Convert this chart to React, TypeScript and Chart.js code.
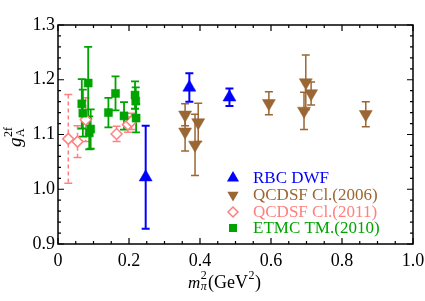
import React, { useEffect, useRef } from 'react';
import { Chart, registerables } from 'chart.js';

Chart.register(...registerables);

// ---- data ----
const rbcX = [0.247, 0.370, 0.483];
const rbcY = [1.022, 1.186, 1.168];
const rbcErr = [0.094, 0.026, 0.016];

const qcd06X = [0.358, 0.358, 0.386, 0.395, 0.594, 0.693, 0.698, 0.713, 0.867];
const qcd06Y = [1.136, 1.105, 1.081, 1.122, 1.157, 1.143, 1.195, 1.175, 1.137];
const qcd06Err = [0.020, 0.035, 0.056, 0.035, 0.021, 0.034, 0.050, 0.021, 0.023];

const qcd11X = [0.029, 0.055, 0.078, 0.165, 0.197, 0.207];
const qcd11Y = [1.092, 1.087, 1.127, 1.101, 1.118, 1.124];
const qcd11Err = [0.081, 0.029, 0.040, 0.014, 0.014, 0.015];

const etmcX = [0.067, 0.070, 0.085, 0.088, 0.092, 0.142, 0.162, 0.186, 0.217, 0.219, 0.220];
const etmcY = [1.156, 1.139, 1.194, 1.103, 1.110, 1.140, 1.175, 1.134, 1.172, 1.161, 1.130];
const etmcErr = [0.045, 0.043, 0.066, 0.030, 0.036, 0.027, 0.031, 0.025, 0.025, 0.025, 0.026];

const legendLabels = ['RBC DWF', 'QCDSF Cl.(2006)', 'QCDSF Cl.(2011)', 'ETMC TM.(2010)'];

const BLUE = '#0000ff';
const BROWN = '#9a6633';
const PINK = '#ff8080';
const GREEN = '#00a400';
const SERIF = '"Liberation Serif", "DejaVu Serif", serif';

const toPts = (xs: number[], ys: number[]) => xs.map((x, i) => ({ x, y: ys[i] }));

const errGroups = [
  { x: qcd11X, y: qcd11Y, e: qcd11Err, c: PINK, dash: [4, 3], w: 1.5 },
  { x: qcd06X, y: qcd06Y, e: qcd06Err, c: BROWN, dash: [], w: 1.5 },
  { x: etmcX, y: etmcY, e: etmcErr, c: GREEN, dash: [], w: 1.8 },
  { x: rbcX, y: rbcY, e: rbcErr, c: BLUE, dash: [], w: 2 },
];

const errPlugin = {
  id: 'errbars',
  beforeDatasetsDraw(chart: any) {
    const { ctx, scales } = chart;
    const xs = scales.x, ys = scales.y;
    ctx.save();
    errGroups.forEach((g) => {
      ctx.strokeStyle = g.c;
      ctx.lineWidth = g.w;
      g.x.forEach((xv, i) => {
        const px = xs.getPixelForValue(xv);
        const top = ys.getPixelForValue(g.y[i] + g.e[i]);
        const bot = ys.getPixelForValue(g.y[i] - g.e[i]);
        ctx.setLineDash(g.dash);
        ctx.beginPath();
        ctx.moveTo(px, top);
        ctx.lineTo(px, bot);
        ctx.stroke();
        ctx.setLineDash([]);
        ctx.beginPath();
        ctx.moveTo(px - 4, top);
        ctx.lineTo(px + 4, top);
        ctx.moveTo(px - 4, bot);
        ctx.lineTo(px + 4, bot);
        ctx.stroke();
      });
    });
    ctx.restore();
  },
};

const framePlugin = {
  id: 'frame',
  afterDatasetsDraw(chart: any) {
    const { ctx, chartArea: a, scales } = chart;
    const xs = scales.x, ys = scales.y;
    ctx.save();
    ctx.strokeStyle = '#000';
    ctx.lineWidth = 1.5;
    ctx.strokeRect(a.left, a.top, a.right - a.left, a.bottom - a.top);
    ctx.lineWidth = 1.2;
    ctx.beginPath();
    for (let k = 0; k <= 20; k++) {
      const v = k * 0.05;
      const len = k % 4 === 0 ? 6 : 3;
      const px = xs.getPixelForValue(v);
      ctx.moveTo(px, a.bottom);
      ctx.lineTo(px, a.bottom - len);
      ctx.moveTo(px, a.top);
      ctx.lineTo(px, a.top + len);
    }
    for (let k = 0; k <= 20; k++) {
      const v = 0.9 + k * 0.02;
      const len = k % 5 === 0 ? 6 : 3;
      const py = ys.getPixelForValue(v);
      ctx.moveTo(a.left, py);
      ctx.lineTo(a.left + len, py);
      ctx.moveTo(a.right, py);
      ctx.lineTo(a.right - len, py);
    }
    ctx.stroke();
    ctx.restore();
  },
};

function drawMarker(ctx: CanvasRenderingContext2D, kind: string, x: number, y: number, color: string) {
  ctx.save();
  ctx.fillStyle = color;
  ctx.strokeStyle = color;
  ctx.lineWidth = 1.5;
  ctx.beginPath();
  if (kind === 'up') {
    const r = 7;
    ctx.moveTo(x, y - r);
    ctx.lineTo(x + r * 0.866, y + r * 0.5);
    ctx.lineTo(x - r * 0.866, y + r * 0.5);
    ctx.closePath();
    ctx.fill();
  } else if (kind === 'down') {
    const r = 6.5;
    ctx.moveTo(x, y + r);
    ctx.lineTo(x + r * 0.866, y - r * 0.5);
    ctx.lineTo(x - r * 0.866, y - r * 0.5);
    ctx.closePath();
    ctx.fill();
  } else if (kind === 'diamond') {
    const r = 5;
    ctx.moveTo(x, y - r);
    ctx.lineTo(x + r, y);
    ctx.lineTo(x, y + r);
    ctx.lineTo(x - r, y);
    ctx.closePath();
    ctx.fillStyle = '#fff';
    ctx.fill();
    ctx.stroke();
  } else {
    const s = 4;
    ctx.rect(x - s, y - s, 2 * s, 2 * s);
    ctx.fill();
  }
  ctx.restore();
}

const textPlugin = {
  id: 'texts',
  afterDraw(chart: any) {
    const ctx: CanvasRenderingContext2D = chart.ctx;
    ctx.save();
    // legend
    const kinds = ['up', 'down', 'diamond', 'square'];
    const cols = [BLUE, BROWN, PINK, GREEN];
    const rows = [178, 195, 212, 228];
    ctx.textBaseline = 'middle';
    ctx.textAlign = 'left';
    ctx.font = `17px ${SERIF}`;
    legendLabels.forEach((lab, i) => {
      drawMarker(ctx, kinds[i], 233, rows[i], cols[i]);
      ctx.fillStyle = cols[i];
      ctx.fillText(lab, 253, rows[i] + 1);
    });

    // x title
    ctx.textBaseline = 'alphabetic';
    ctx.fillStyle = '#000';
    const x0 = 188;
    const base = 288;
    ctx.font = `italic 17px ${SERIF}`;
    ctx.fillText('m', x0, base);
    const mw = ctx.measureText('m').width + 0.5;
    ctx.font = `12px ${SERIF}`;
    ctx.fillText('2', x0 + mw, base - 9);
    ctx.font = `italic 12px ${SERIF}`;
    ctx.fillText('\u03c0', x0 + mw, base + 2);
    let x = x0 + 20;
    ctx.font = `18px ${SERIF}`;
    ctx.fillText('(GeV', x, base);
    x += ctx.measureText('(GeV').width + 0.5;
    ctx.font = `12px ${SERIF}`;
    ctx.fillText('2', x, base - 9);
    x += ctx.measureText('2').width + 0.5;
    ctx.font = `18px ${SERIF}`;
    ctx.fillText(')', x, base);

    // y title
    ctx.translate(21, 147);
    ctx.rotate(-Math.PI / 2);
    ctx.font = `italic 19px ${SERIF}`;
    ctx.fillText('g', 0, 0);
    const gw = ctx.measureText('g').width + 0.5;
    ctx.font = `12px ${SERIF}`;
    ctx.fillText('2f', gw, -9);
    ctx.fillText('A', gw, 3);
    ctx.restore();
  },
};

export default function App() {
  const ref = useRef<HTMLCanvasElement>(null);
  useEffect(() => {
    if (!ref.current) return;
    const mk = (label: string, xs: number[], ys: number[], style: string, color: string, radius: number, rot: number, fill: string, bw: number, order: number) => ({
      label,
      data: toPts(xs, ys),
      pointStyle: style,
      pointRadius: radius,
      pointRotation: rot,
      backgroundColor: fill,
      borderColor: color,
      borderWidth: bw,
      showLine: false,
      order,
    });
    const chart = new Chart(ref.current, {
      type: 'scatter',
      data: {
        datasets: [
          mk(legendLabels[3], etmcX, etmcY, 'rect', GREEN, 5.7, 0, GREEN, 0.5, 1),
          mk(legendLabels[0], rbcX, rbcY, 'triangle', BLUE, 7.5, 0, BLUE, 0.5, 2),
          mk(legendLabels[1], qcd06X, qcd06Y, 'triangle', BROWN, 7.5, 180, BROWN, 0.5, 3),
          mk(legendLabels[2], qcd11X, qcd11Y, 'rectRot', PINK, 5.5, 0, '#ffffff', 1.5, 4),
        ] as any,
      },
      options: {
        animation: false,
        responsive: true,
        maintainAspectRatio: false,
        layout: { padding: { top: 25, right: 12, left: 0, bottom: 0 } },
        plugins: { legend: { display: false }, tooltip: { enabled: false } },
        scales: {
          x: {
            type: 'linear',
            min: 0,
            max: 1,
            grid: { display: false, drawTicks: false },
            border: { display: false },
            ticks: {
              stepSize: 0.2,
              color: '#000',
              padding: 6,
              maxRotation: 0,
              font: { family: SERIF, size: 18 },
              callback: (v: any) => (v === 0 ? '0' : Number(v).toFixed(1)),
            },
            afterFit: (s: any) => { s.height = 57; s.paddingLeft = 0; s.paddingRight = 0; },
          },
          y: {
            type: 'linear',
            min: 0.9,
            max: 1.3,
            grid: { display: false, drawTicks: false },
            border: { display: false },
            ticks: {
              stepSize: 0.1,
              color: '#000',
              padding: 3,
              font: { family: SERIF, size: 18 },
              callback: (v: any) => Number(v).toFixed(1),
            },
            afterFit: (s: any) => { s.width = 58; s.paddingTop = 0; s.paddingBottom = 0; },
          },
        },
      } as any,
      plugins: [errPlugin, framePlugin, textPlugin],
    });
    return () => chart.destroy();
  }, []);
  return (
    <div style={{ position: 'absolute', left: 0, top: 0, width: 425, height: 301, background: '#fff' }}>
      <canvas ref={ref} />
    </div>
  );
}
